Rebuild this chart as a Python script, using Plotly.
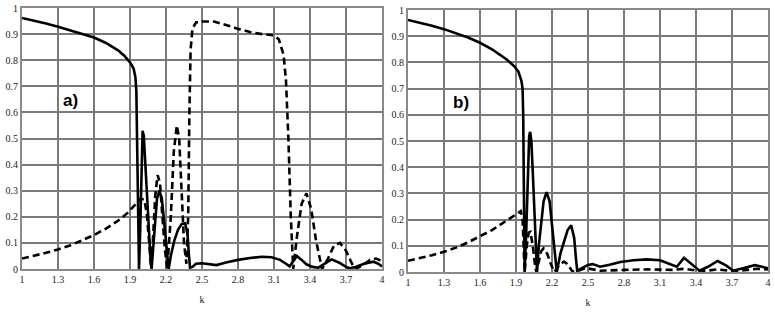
import plotly.graph_objects as go

# panel a) curves (read from the picture)
k_solid_a = [1.0, 1.1, 1.2, 1.3, 1.4, 1.5, 1.6, 1.7, 1.8, 1.85, 1.9, 1.93, 1.945, 1.953, 1.96, 1.968, 1.975,
             1.985, 1.995, 2.005, 2.015, 2.03, 2.045, 2.06, 2.072, 2.08,
             2.095, 2.11, 2.125, 2.145, 2.165, 2.185, 2.205, 2.222,
             2.24, 2.27, 2.3, 2.33, 2.36, 2.38, 2.39, 2.40,
             2.42, 2.45, 2.5, 2.55, 2.62, 2.7, 2.8, 2.9, 3.0, 3.08, 3.15, 3.2, 3.23,
             3.26, 3.29, 3.33, 3.37, 3.42, 3.47, 3.52, 3.58, 3.64, 3.7, 3.73, 3.78, 3.85, 3.93, 3.97, 4.0]
v_solid_a = [0.962, 0.952, 0.941, 0.928, 0.915, 0.902, 0.887, 0.866, 0.838, 0.818, 0.792, 0.768, 0.735, 0.68, 0.4, 0.1, 0.0,
             0.15, 0.42, 0.53, 0.51, 0.38, 0.22, 0.1, 0.03, 0.0,
             0.1, 0.2, 0.27, 0.30, 0.27, 0.18, 0.08, 0.0,
             0.05, 0.11, 0.15, 0.172, 0.175, 0.13, 0.06, 0.005,
             0.008, 0.02, 0.022, 0.018, 0.015, 0.025, 0.035, 0.042, 0.047, 0.045, 0.035, 0.02, 0.01,
             0.03, 0.05, 0.035, 0.018, 0.008, 0.005, 0.02, 0.037, 0.025, 0.008, 0.003, 0.008, 0.02, 0.028, 0.02, 0.01]

k_dash_a = [1.0, 1.1, 1.2, 1.3, 1.4, 1.5, 1.6, 1.7, 1.8, 1.88, 1.93, 1.96, 1.99, 2.02, 2.04, 2.06, 2.075,
            2.09, 2.11, 2.13, 2.15, 2.17, 2.19, 2.21,
            2.24, 2.265, 2.29, 2.31, 2.33, 2.35, 2.37,
            2.385, 2.395, 2.405, 2.42, 2.45, 2.5, 2.6, 2.7, 2.8, 2.9, 3.0, 3.1,
            3.14, 3.18, 3.2, 3.22, 3.24, 3.26,
            3.29, 3.33, 3.37, 3.41, 3.45, 3.5, 3.55, 3.6, 3.65, 3.7, 3.75, 3.78, 3.84, 3.9, 3.95, 4.0]
v_dash_a = [0.04, 0.05, 0.062, 0.075, 0.09, 0.11, 0.13, 0.155, 0.185, 0.215, 0.24, 0.255, 0.27, 0.265, 0.21, 0.1, 0.01,
            0.1, 0.28, 0.36, 0.33, 0.2, 0.08, 0.0,
            0.2, 0.45, 0.55, 0.5, 0.3, 0.1, 0.02,
            0.2, 0.6, 0.84, 0.92, 0.945, 0.948, 0.948, 0.935, 0.92, 0.908, 0.9, 0.895,
            0.88, 0.82, 0.72, 0.5, 0.2, 0.0,
            0.12, 0.25, 0.29, 0.23, 0.11, 0.0, 0.04, 0.09, 0.1, 0.07, 0.02, 0.0, 0.015, 0.035, 0.04, 0.03]

# panel b) curves
k_solid_b = [1.0, 1.1, 1.2, 1.3, 1.4, 1.5, 1.6, 1.7, 1.77, 1.83, 1.89, 1.92, 1.945, 1.955, 1.96, 1.965, 1.972,
             1.985, 2.0, 2.01, 2.018, 2.028, 2.04, 2.055, 2.068, 2.075,
             2.09, 2.11, 2.13, 2.155, 2.18, 2.2, 2.22, 2.24,
             2.27, 2.3, 2.33, 2.36, 2.385, 2.4, 2.41,
             2.45, 2.5, 2.54, 2.6, 2.68, 2.77, 2.88, 2.99, 3.1, 3.18, 3.24,
             3.3, 3.36, 3.43, 3.5, 3.58, 3.65, 3.71, 3.8, 3.89, 3.95, 4.0]
v_solid_b = [0.962, 0.952, 0.94, 0.927, 0.912, 0.895, 0.875, 0.85, 0.828, 0.808, 0.783, 0.765, 0.73, 0.7, 0.6, 0.3, 0.0,
             0.15, 0.42, 0.52, 0.535, 0.5, 0.38, 0.2, 0.05, 0.0,
             0.1, 0.2, 0.27, 0.305, 0.27, 0.18, 0.08, 0.0,
             0.07, 0.12, 0.16, 0.178, 0.13, 0.05, 0.005,
             0.015, 0.027, 0.03, 0.02, 0.028, 0.038, 0.045, 0.048, 0.045, 0.032, 0.02,
             0.054, 0.03, 0.005, 0.02, 0.042, 0.025, 0.005, 0.015, 0.026, 0.02, 0.014]

k_dash_b = [1.0, 1.1, 1.2, 1.3, 1.4, 1.5, 1.6, 1.7, 1.8, 1.88, 1.94, 1.955, 1.965, 1.972,
            1.99, 2.005, 2.02, 2.04, 2.06, 2.07,
            2.09, 2.11, 2.13, 2.16, 2.19, 2.22,
            2.26, 2.3, 2.33, 2.37, 2.42, 2.48, 2.52, 2.6, 2.8, 3.0, 3.2, 3.3, 3.45, 3.58, 3.72, 3.9, 4.0]
v_dash_b = [0.043, 0.053, 0.064, 0.077, 0.093, 0.113, 0.135, 0.16, 0.19, 0.215, 0.232, 0.2, 0.05, 0.0,
            0.1, 0.15, 0.153, 0.1, 0.02, 0.0,
            0.04, 0.08, 0.09, 0.07, 0.03, 0.0,
            0.025, 0.04, 0.03, 0.002, 0.005, 0.015, 0.012, 0.005, 0.008, 0.01, 0.008, 0.012, 0.003, 0.01, 0.003, 0.012, 0.01]

x_ticks = [1, 1.3, 1.6, 1.9, 2.2, 2.5, 2.8, 3.1, 3.4, 3.7, 4]
x_labels = ["1", "1.3", "1.6", "1.9", "2.2", "2.5", "2.8", "3.1", "3.4", "3.7", "4"]
y_ticks = [0, 0.1, 0.2, 0.3, 0.4, 0.5, 0.6, 0.7, 0.8, 0.9, 1]
y_labels = ["0", "0.1", "0.2", "0.3", "0.4", "0.5", "0.6", "0.7", "0.8", "0.9", "1"]

line_w = 2.6
fig = go.Figure()
fig.add_trace(go.Scatter(x=k_dash_a, y=v_dash_a, mode="lines", xaxis="x", yaxis="y",
                         line=dict(color="black", width=line_w, dash="7px,4px")))
fig.add_trace(go.Scatter(x=k_solid_a, y=v_solid_a, mode="lines", xaxis="x", yaxis="y",
                         line=dict(color="black", width=line_w)))
fig.add_trace(go.Scatter(x=k_dash_b, y=v_dash_b, mode="lines", xaxis="x2", yaxis="y2",
                         line=dict(color="black", width=line_w, dash="7px,4px")))
fig.add_trace(go.Scatter(x=k_solid_b, y=v_solid_b, mode="lines", xaxis="x2", yaxis="y2",
                         line=dict(color="black", width=line_w)))

tick_font = dict(family="Liberation Serif", size=10, color="#222")
xa = dict(range=[1, 4], tickvals=x_ticks, ticktext=x_labels, showgrid=True, gridcolor="#7a7a7a",
          gridwidth=1.5, showline=True, linecolor="#8a8a8a", linewidth=2, mirror=True, zeroline=False,
          tickfont=tick_font, ticks="", automargin=False, ticklabeloverflow="allow",
          title=dict(text="k", font=tick_font, standoff=12))
ya = dict(range=[0, 1], tickvals=y_ticks, ticktext=y_labels, showgrid=True, gridcolor="#7a7a7a",
          gridwidth=1.5, showline=True, linecolor="#8a8a8a", linewidth=2, mirror=True, zeroline=False,
          tickfont=tick_font, ticks="", automargin=False, ticklabeloverflow="allow")

fig.update_layout(
    width=775, height=320,
    margin=dict(l=0, r=0, t=0, b=0),
    plot_bgcolor="white", paper_bgcolor="white",
    showlegend=False,
    xaxis=dict(xa, domain=[22 / 775, 382 / 775], anchor="y"),
    yaxis=dict(ya, domain=[1 - 269 / 320, 1 - 8 / 320], anchor="x"),
    xaxis2=dict(xa, domain=[408 / 775, 768 / 775], anchor="y2"),
    yaxis2=dict(ya, domain=[1 - 272 / 320, 1 - 10 / 320], anchor="x2"),
    annotations=[
        dict(x=1.4, y=0.645, xref="x", yref="y", text="<b>a)</b>", showarrow=False,
             font=dict(family="Liberation Sans", size=17, color="black")),
        dict(x=1.44, y=0.648, xref="x2", yref="y2", text="<b>b)</b>", showarrow=False,
             font=dict(family="Liberation Sans", size=17, color="black")),
    ],
)

# page body has a default 8px margin; drop it so the figure sits at the window corner
fig.write_html("out.html", config={"displayModeBar": False},
               post_script="document.body.style.margin='0';")
